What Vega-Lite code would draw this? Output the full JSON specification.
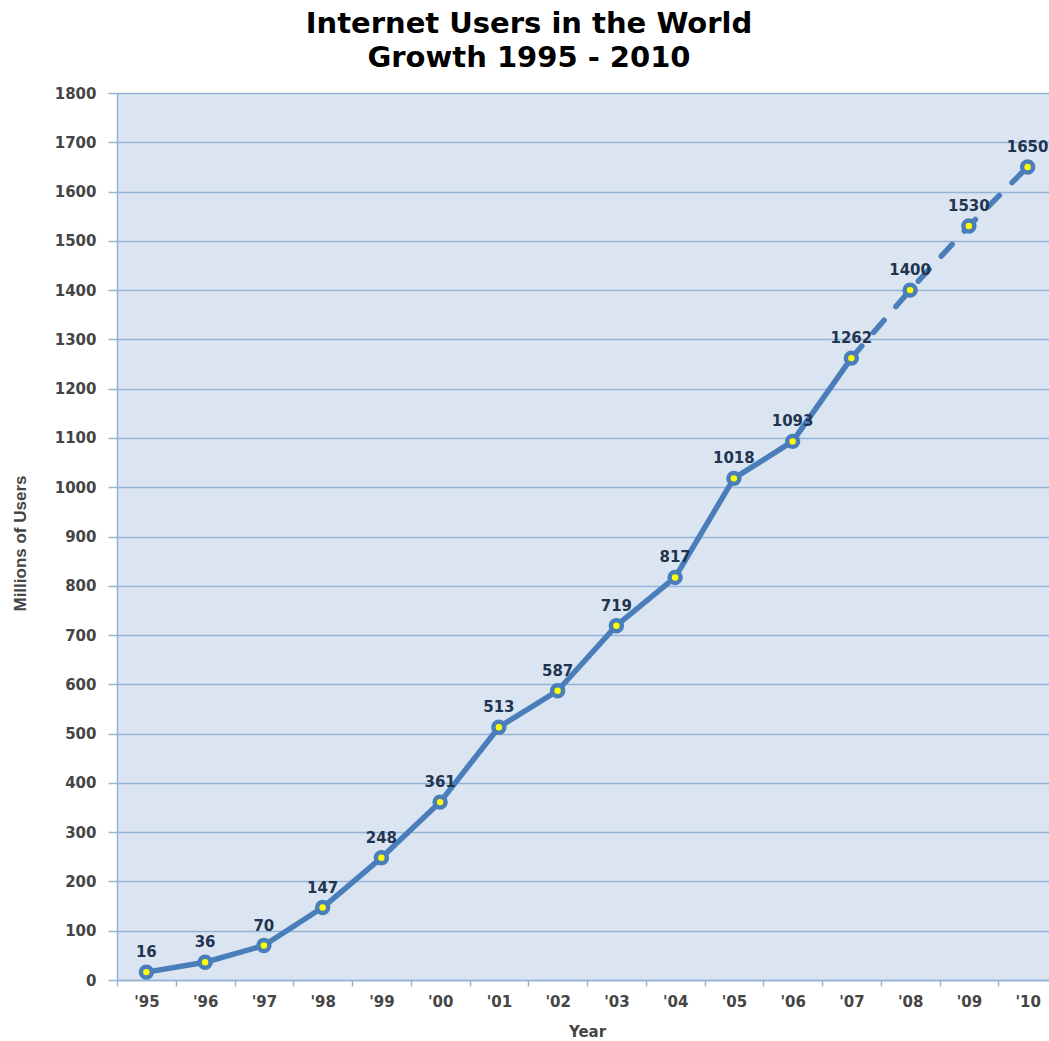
{
  "$schema": "https://vega.github.io/schema/vega-lite/v6.json",
  "width": 932,
  "height": 887,
  "autosize": {"type": "none"},
  "padding": {"left": 117, "top": 93, "right": 0, "bottom": 61},
  "background": "white",
  "title": {
    "text": ["Internet Users in the World", "Growth 1995 - 2010"],
    "font": "DejaVu Sans",
    "fontSize": 29,
    "fontWeight": "bold",
    "color": "#000000",
    "anchor": "middle",
    "dx": -54,
    "offset": 13,
    "lineHeight": 34
  },
  "config": {"view": {"fill": "#dbe5f1", "stroke": null}},
  "data": {
    "values": [
      {"yr": "'95", "users": 16},
      {"yr": "'96", "users": 36},
      {"yr": "'97", "users": 70},
      {"yr": "'98", "users": 147},
      {"yr": "'99", "users": 248},
      {"yr": "'00", "users": 361},
      {"yr": "'01", "users": 513},
      {"yr": "'02", "users": 587},
      {"yr": "'03", "users": 719},
      {"yr": "'04", "users": 817},
      {"yr": "'05", "users": 1018},
      {"yr": "'06", "users": 1093},
      {"yr": "'07", "users": 1262},
      {"yr": "'08", "users": 1400},
      {"yr": "'09", "users": 1530},
      {"yr": "'10", "users": 1650}
    ]
  },
  "encoding": {
    "x": {
      "field": "yr",
      "type": "ordinal",
      "sort": null,
      "scale": {"type": "band", "paddingInner": 0, "paddingOuter": 0, "range": [0, 940]},
      "axis": {
        "tickBand": "extent",
        "tickSize": 6,
        "tickColor": "#95b3d7",
        "tickWidth": 1.5,
        "domainColor": "#95b3d7",
        "domainWidth": 1.5,
        "labelAngle": 0,
        "labelFont": "DejaVu Sans",
        "labelFontSize": 15,
        "labelFontWeight": "bold",
        "labelColor": "#454545",
        "labelPadding": 8,
        "grid": false,
        "title": "Year",
        "titleFont": "DejaVu Sans",
        "titleFontSize": 15,
        "titleFontWeight": "bold",
        "titleColor": "#454545",
        "titleBaseline": "alphabetic",
        "titleY": 56
      }
    },
    "y": {
      "field": "users",
      "type": "quantitative",
      "scale": {"domain": [0, 1800], "nice": false},
      "axis": {
        "values": [0, 100, 200, 300, 400, 500, 600, 700, 800, 900, 1000, 1100, 1200, 1300, 1400, 1500, 1600, 1700, 1800],
        "format": "d",
        "grid": true,
        "gridColor": "#95b3d7",
        "gridWidth": 1.5,
        "domainColor": "#95b3d7",
        "domainWidth": 1.5,
        "tickColor": "#95b3d7",
        "tickWidth": 1.5,
        "tickSize": 9,
        "labelPadding": 12,
        "labelFont": "DejaVu Sans",
        "labelFontSize": 15,
        "labelFontWeight": "bold",
        "labelColor": "#454545",
        "title": "Millions of Users",
        "titleFont": "Liberation Sans",
        "titleFontSize": 17,
        "titleFontWeight": "bold",
        "titleColor": "#454545",
        "titleX": -97,
        "titleY": 450,
        "titleAngle": -90,
        "titleAlign": "center",
        "titleBaseline": "middle"
      }
    }
  },
  "layer": [
    {
      "transform": [{"filter": {"field": "yr", "oneOf": ["'95", "'96", "'97", "'98", "'99", "'00", "'01", "'02", "'03", "'04", "'05", "'06", "'07"]}}],
      "mark": {"type": "line", "color": "#4a7ebb", "strokeWidth": 5.5, "strokeCap": "round", "strokeJoin": "round"}
    },
    {
      "transform": [{"filter": {"field": "yr", "oneOf": ["'07", "'08", "'09", "'10"]}}],
      "mark": {"type": "line", "color": "#4a7ebb", "strokeWidth": 5.5, "strokeCap": "round", "strokeDash": [16, 18]}
    },
    {
      "mark": {"type": "point", "shape": "circle", "filled": true, "fill": "#ffff00", "stroke": "#4a7ebb", "strokeWidth": 4.5, "size": 120, "opacity": 1}
    },
    {
      "mark": {"type": "text", "dy": -20, "baseline": "middle", "align": "center", "font": "DejaVu Sans", "fontSize": 15, "fontWeight": "bold", "color": "#1f3552"},
      "encoding": {"text": {"field": "users", "type": "quantitative"}}
    }
  ]
}
